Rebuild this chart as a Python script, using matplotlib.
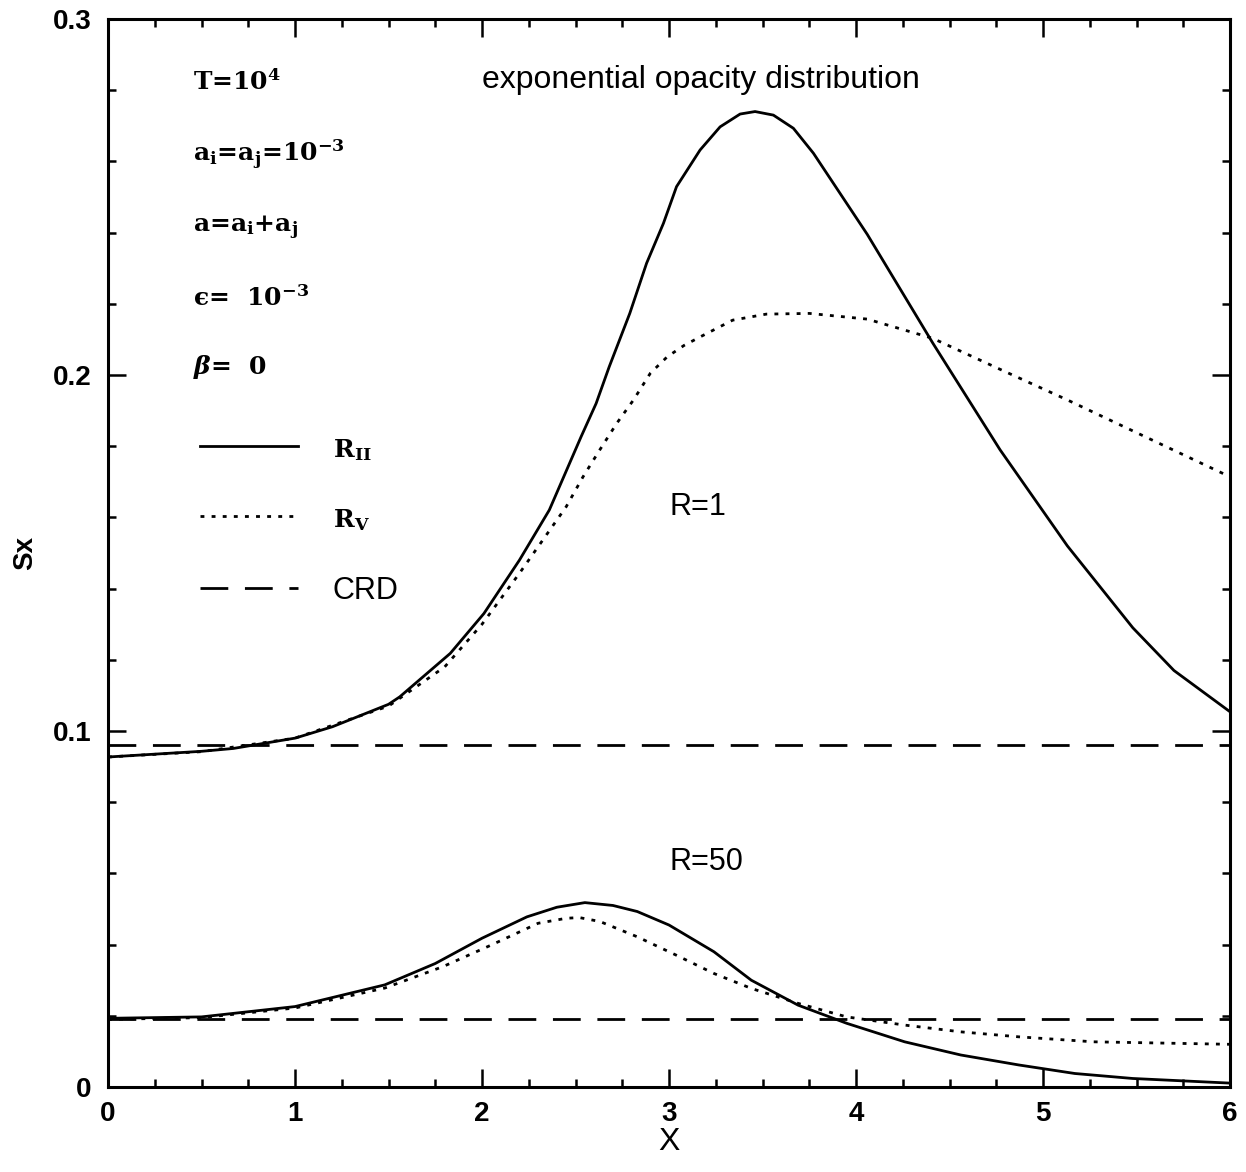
import matplotlib
matplotlib.use("Agg")
import matplotlib.pyplot as plt
from matplotlib.ticker import MultipleLocator
from matplotlib.lines import Line2D

# ---- data ----
# R = 1, R_II (solid)
x_r1_II = [0.0, 0.5, 0.67, 1.0, 1.2, 1.5, 1.56, 1.83, 2.01, 2.2, 2.36, 2.53, 2.61, 2.68,
           2.79, 2.88, 2.97, 3.04, 3.166, 3.273, 3.38, 3.46, 3.558, 3.665, 3.772,
           4.06, 4.41, 4.77, 5.13, 5.48, 5.7, 6.0]
y_r1_II = [0.0927, 0.0943, 0.0951, 0.098, 0.1012, 0.1075, 0.1096, 0.1218, 0.133, 0.148,
           0.1621, 0.1827, 0.192, 0.2023, 0.2173, 0.2314, 0.2426, 0.2529, 0.2632, 0.2697,
           0.2733, 0.2740, 0.2730, 0.2693, 0.2623, 0.2395, 0.209, 0.179, 0.152, 0.129,
           0.117, 0.1054]
# R = 1, R_V (dotted)
x_r1_V = [0.0, 0.5, 1.0, 1.5, 1.8, 2.0, 2.2, 2.45, 2.54, 2.63, 2.72, 2.81, 2.90, 2.99,
          3.08, 3.17, 3.34, 3.52, 3.75, 4.06, 4.41, 4.77, 5.13, 5.48, 6.0]
y_r1_V = [0.0927, 0.0942, 0.098, 0.107, 0.118, 0.130, 0.1443, 0.163, 0.1714, 0.179, 0.1864,
          0.193, 0.2005, 0.2051, 0.2083, 0.2108, 0.2154, 0.2171, 0.2173, 0.2157, 0.2103,
          0.2016, 0.193, 0.1843, 0.1714]
# R = 50, R_II (solid)
x_r50_II = [0.0, 0.5, 1.0, 1.48, 1.75, 2.0, 2.24, 2.4, 2.55, 2.7, 2.83, 3.0, 3.24, 3.44,
            3.69, 3.95, 4.26, 4.56, 4.87, 5.17, 5.48, 6.0]
y_r50_II = [0.0193, 0.0197, 0.0226, 0.0287, 0.0347, 0.0418, 0.0478, 0.0505, 0.0518, 0.0510,
            0.0493, 0.0455, 0.038, 0.030, 0.023, 0.0179, 0.0127, 0.009, 0.0062, 0.0038,
            0.0024, 0.0011]
# R = 50, R_V (dotted)
x_r50_V = [0.0, 0.5, 1.0, 1.48, 1.79, 2.05, 2.3, 2.45, 2.52, 2.63, 2.83, 3.04, 3.24, 3.44,
           3.69, 3.95, 4.26, 4.56, 4.87, 5.27, 6.0]
y_r50_V = [0.0190, 0.0195, 0.0222, 0.0278, 0.0338, 0.0399, 0.046, 0.0474, 0.0476, 0.0465,
           0.0422, 0.037, 0.0319, 0.0277, 0.0235, 0.0197, 0.0174, 0.0155, 0.0141, 0.0127,
           0.012]
# CRD (dashed, constant)
x_crd = [0.0, 6.0]
y_crd_r1 = [0.096, 0.096]
y_crd_r50 = [0.019, 0.019]

x_ticks = [0, 1, 2, 3, 4, 5, 6]
x_ticklabels = ["0", "1", "2", "3", "4", "5", "6"]
y_ticks = [0.0, 0.1, 0.2, 0.3]
y_ticklabels = ["0", "0.1", "0.2", "0.3"]

SANS = ["Liberation Sans", "DejaVu Sans"]
SERIF = ["DejaVu Serif"]

plt.rcParams["font.family"] = SANS
plt.rcParams["mathtext.fontset"] = "custom"
plt.rcParams["mathtext.rm"] = "DejaVu Serif:bold"
plt.rcParams["mathtext.it"] = "DejaVu Serif:bold:italic"
plt.rcParams["mathtext.bf"] = "DejaVu Serif:bold"

fig = plt.figure(figsize=(12.46, 11.72), dpi=100)
ax = fig.add_axes([0.0867, 0.0725, 0.9005, 0.9113])

lw = 2.0
solid_kw = dict(color="black", lw=lw, linestyle="-")
dot_kw = dict(color="black", lw=lw, linestyle=(0, (1.4, 2.6)))
dash_kw = dict(color="black", lw=lw, linestyle=(0, (10, 6)))

ax.plot(x_r1_II, y_r1_II, **solid_kw)
ax.plot(x_r1_V, y_r1_V, **dot_kw)
ax.plot(x_crd, y_crd_r1, **dash_kw)
ax.plot(x_r50_II, y_r50_II, **solid_kw)
ax.plot(x_r50_V, y_r50_V, **dot_kw)
ax.plot(x_crd, y_crd_r50, **dash_kw)

ax.set_xlim(0, 6)
ax.set_ylim(0, 0.3)
ax.set_xticks(x_ticks)
ax.set_xticklabels(x_ticklabels)
ax.set_yticks(y_ticks)
ax.set_yticklabels(y_ticklabels)
ax.xaxis.set_minor_locator(MultipleLocator(0.25))
ax.yaxis.set_minor_locator(MultipleLocator(0.02))
ax.tick_params(which="both", direction="in", top=True, right=True, width=1.8,
               labelsize=20, colors="black")
ax.tick_params(which="major", length=13)
ax.tick_params(which="minor", length=6)
ax.tick_params(axis="x", which="major", pad=10)
ax.tick_params(axis="y", which="major", pad=12)
for lab in ax.get_xticklabels() + ax.get_yticklabels():
    lab.set_fontweight("bold")
for sp in ax.spines.values():
    sp.set_linewidth(2.2)

ax.set_xlabel("X", fontsize=23, labelpad=0)
ax.set_ylabel("Sx", fontsize=20, fontweight="bold")
ax.yaxis.set_label_coords(-0.062, 0.5)

# annotations
tkw = dict(fontsize=18, fontweight="bold", family=SERIF, va="center", ha="left")
ax.text(0.455, 0.2823, "T=10$^{4}$", **tkw)
ax.text(0.455, 0.2618, "a$_{\\rm i}$=a$_{\\rm j}$=10$^{-3}$", **tkw)
ax.text(0.455, 0.2413, "a=a$_{\\rm i}$+a$_{\\rm j}$", **tkw)
ax.text(0.455, 0.2216, "\u03f5=  10$^{-3}$", **tkw)
ax.text(0.455, 0.2022, "$\\beta$=  0", **tkw)

ax.text(2.0, 0.2829, "exponential opacity distribution", fontsize=23,
        va="center", ha="left", family=SANS)
ax.text(3.0, 0.163, "R=1", fontsize=22, va="center", ha="left", family=SANS)
ax.text(3.0, 0.0632, "R=50", fontsize=22, va="center", ha="left", family=SANS)

h1 = Line2D([], [], **solid_kw)
h2 = Line2D([], [], **dot_kw)
h3 = Line2D([], [], **dash_kw)
leg = ax.legend([h1, h2, h3], ["R$_{\\rm II}$", "R$_{\\rm V}$", "CRD"],
                loc="upper left", bbox_to_anchor=(0.082, 0.610), frameon=False,
                fontsize=22, handlelength=3.2, handletextpad=1.15, labelspacing=1.4,
                borderpad=0, borderaxespad=0)
texts = leg.get_texts()
texts[0].set_family(SERIF); texts[0].set_fontweight("bold"); texts[0].set_fontsize(18)
texts[1].set_family(SERIF); texts[1].set_fontweight("bold"); texts[1].set_fontsize(18)
texts[2].set_family(SANS)

fig.savefig("out.png", dpi=100, facecolor="white")
